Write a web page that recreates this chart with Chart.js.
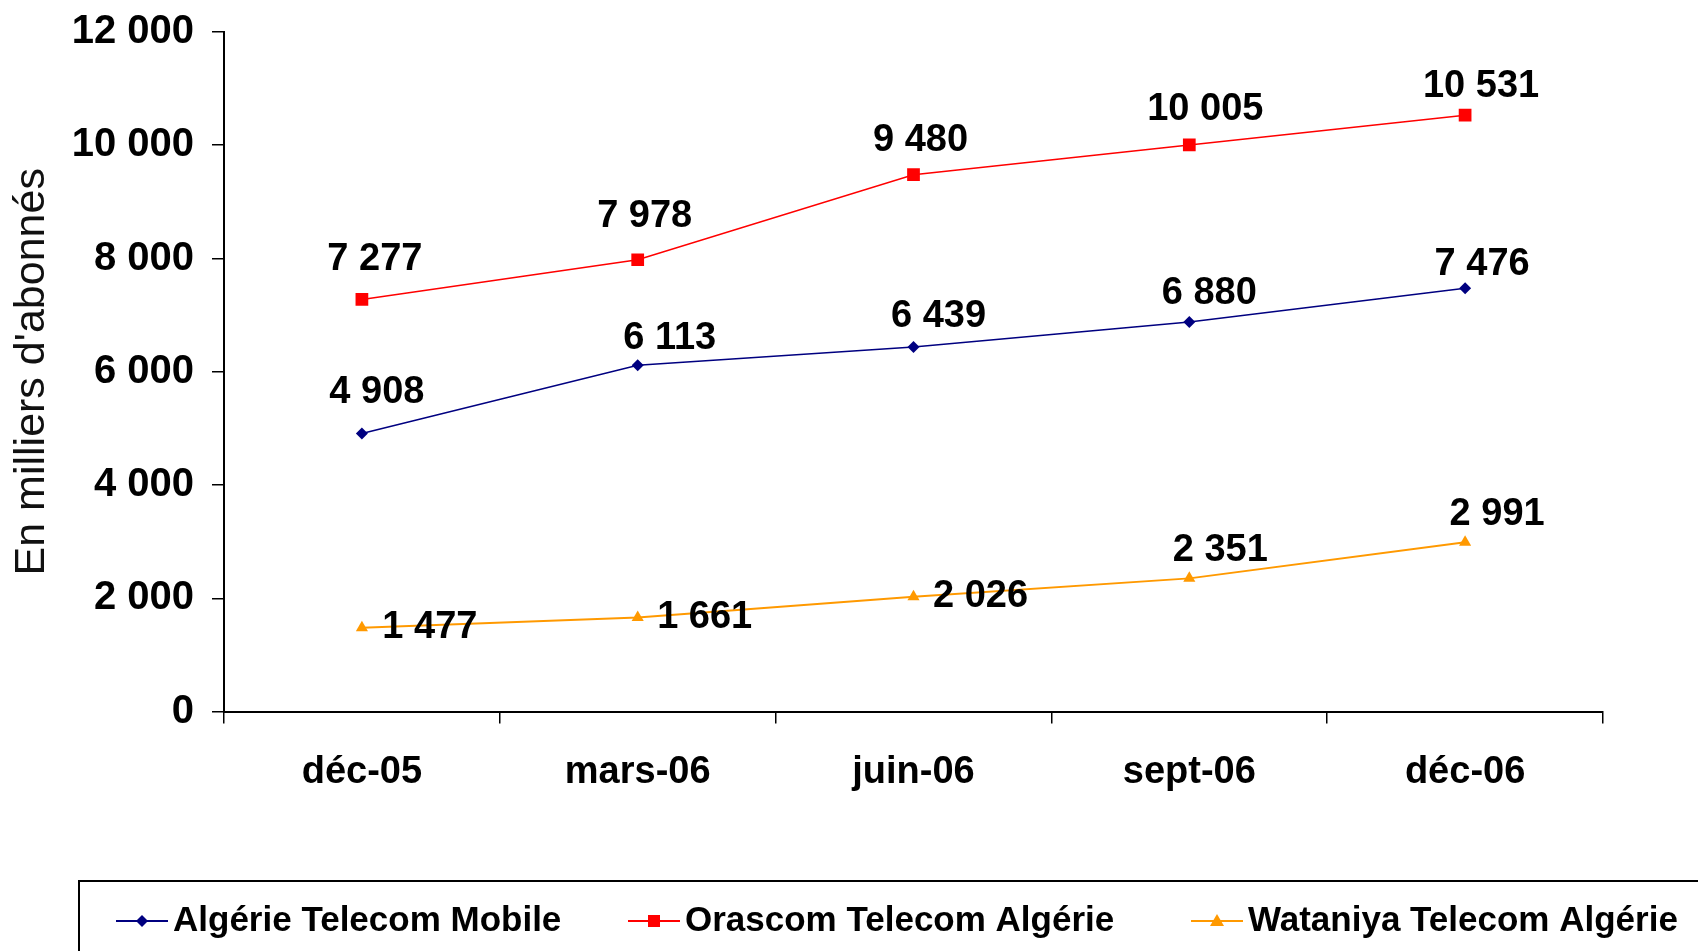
<!DOCTYPE html>
<html>
<head>
<meta charset="utf-8">
<script src="https://cdn.jsdelivr.net/npm/chart.js@4/dist/chart.umd.min.js"></script>
<style>
    html, body { margin: 0; padding: 0; background: #fff; }
    .wrap { width: 1698px; height: 951px; position: relative; }
</style>
</head>
<body>
<div class="wrap"><canvas id="abonnes-chart"></canvas></div>
<script>
// Data
const CATEGORIES = ['déc-05', 'mars-06', 'juin-06', 'sept-06', 'déc-06'];
const SERIES_NAMES = ['Algérie Telecom Mobile', 'Orascom Telecom Algérie', 'Wataniya Telecom Algérie'];
const ATM_VALUES = [4908, 6113, 6439, 6880, 7476];
const OTA_VALUES = [7277, 7978, 9480, 10005, 10531];
const WTA_VALUES = [1477, 1661, 2026, 2351, 2991];
const Y_MIN = 0;
const Y_MAX = 12000;
const Y_STEP = 2000;
const Y_TITLE = "En milliers d'abonnés";

// Styles
const FONT = '"Liberation Sans", Arial, sans-serif';
const COLORS = ['#000080', '#FF0000', '#FF9900'];
const POINT_STYLES = ['rectRot', 'rect', 'triangle'];
// label offsets (px) from each point, per series
const LABEL_DX = [[15, 32, 25, 20, 17], [13, 7, 7, 16, 16], [68, 67, 67, 31, 32]];
const LABEL_DY = [[-41, -27, -30, -28, -24], [-40, -43, -34, -35, -29], [0, 0, 0, -28, -28]];

const fmt = v => String(v).replace(/\B(?=(\d{3})+(?!\d))/g, ' ');

const valueLabels = {
    id: 'valueLabels',
    afterDatasetsDraw(chart) {
        const ctx = chart.ctx;
        ctx.save();
        ctx.font = 'bold 38px ' + FONT;
        ctx.fillStyle = '#000';
        ctx.textAlign = 'center';
        ctx.textBaseline = 'middle';
        chart.data.datasets.forEach((ds, si) => {
            chart.getDatasetMeta(si).data.forEach((pt, i) => {
                ctx.fillText(fmt(ds.data[i]), pt.x + LABEL_DX[si][i], pt.y + LABEL_DY[si][i]);
            });
        });
        ctx.restore();
    }
};

function drawMarker(ctx, style, x, y, color) {
    ctx.fillStyle = color;
    ctx.beginPath();
    if (style === 'rect') {
        ctx.rect(x - 6, y - 6, 12, 12);
    } else if (style === 'rectRot') {
        ctx.moveTo(x, y - 6); ctx.lineTo(x + 6, y); ctx.lineTo(x, y + 6); ctx.lineTo(x - 6, y);
    } else {
        ctx.moveTo(x, y - 7); ctx.lineTo(x + 7, y + 5); ctx.lineTo(x - 7, y + 5);
    }
    ctx.closePath();
    ctx.fill();
}

const boxLegend = {
    id: 'boxLegend',
    afterDraw(chart) {
        const ctx = chart.ctx;
        const starts = [116, 628, 1191];
        const cy = 921;
        ctx.save();
        ctx.strokeStyle = '#000';
        ctx.lineWidth = 2;
        ctx.strokeRect(79, 881, 1700, 100);
        ctx.font = 'bold 35px ' + FONT;
        ctx.textBaseline = 'middle';
        ctx.textAlign = 'left';
        chart.data.datasets.forEach((ds, i) => {
            const x0 = starts[i];
            ctx.strokeStyle = ds.borderColor;
            ctx.lineWidth = 2;
            ctx.beginPath();
            ctx.moveTo(x0, cy);
            ctx.lineTo(x0 + 52, cy);
            ctx.stroke();
            drawMarker(ctx, POINT_STYLES[i], x0 + 26, cy, ds.borderColor);
            ctx.fillStyle = '#000';
            ctx.fillText(ds.label, x0 + 57, cy);
        });
        ctx.restore();
    }
};

const seriesValues = [ATM_VALUES, OTA_VALUES, WTA_VALUES];
const pointRadius = [6, 9, 7];

new Chart(document.getElementById('abonnes-chart'), {
    type: 'line',
    data: {
        labels: CATEGORIES,
        datasets: seriesValues.map((vals, i) => ({
            label: SERIES_NAMES[i],
            data: vals,
            borderColor: COLORS[i],
            backgroundColor: COLORS[i],
            borderWidth: i === 2 ? 2 : 1.5,
            pointStyle: POINT_STYLES[i],
            pointRadius: pointRadius[i],
            pointBorderWidth: 0,
            pointBackgroundColor: COLORS[i],
            tension: 0,
            fill: false,
        }))
    },
    options: {
        responsive: true,
        maintainAspectRatio: false,
        animation: false,
        layout: { padding: { top: 32, right: 95, left: 0, bottom: 0 } },
        plugins: {
            legend: { display: false },
            tooltip: { enabled: false },
        },
        scales: {
            x: {
                offset: true,
                grid: { offset: true, drawOnChartArea: false, drawTicks: true, tickLength: 12, color: '#000', lineWidth: 1.5 },
                border: { display: true, color: '#000', width: 2 },
                ticks: { color: '#000', padding: 26, font: { family: FONT, size: 38, weight: 'bold' }, maxRotation: 0 },
                afterFit: s => { s.height = 239.5; },
            },
            y: {
                min: Y_MIN,
                max: Y_MAX,
                grid: { drawOnChartArea: false, drawTicks: true, tickLength: 12, color: '#000', lineWidth: 1.5 },
                border: { display: true, color: '#000', width: 2 },
                ticks: {
                    stepSize: Y_STEP,
                    color: '#000',
                    padding: 18,
                    font: { family: FONT, size: 40, weight: 'bold' },
                    callback: v => fmt(v),
                },
                title: {
                    display: true,
                    text: Y_TITLE,
                    color: '#111',
                    padding: { top: 6, bottom: 0 },
                    font: { family: FONT, size: 43, weight: 'normal' },
                },
                afterFit: s => { s.width = 224; s.paddingTop = 0; s.paddingBottom = 0; },
            }
        }
    },
    plugins: [valueLabels, boxLegend]
});
</script>
</body>
</html>
